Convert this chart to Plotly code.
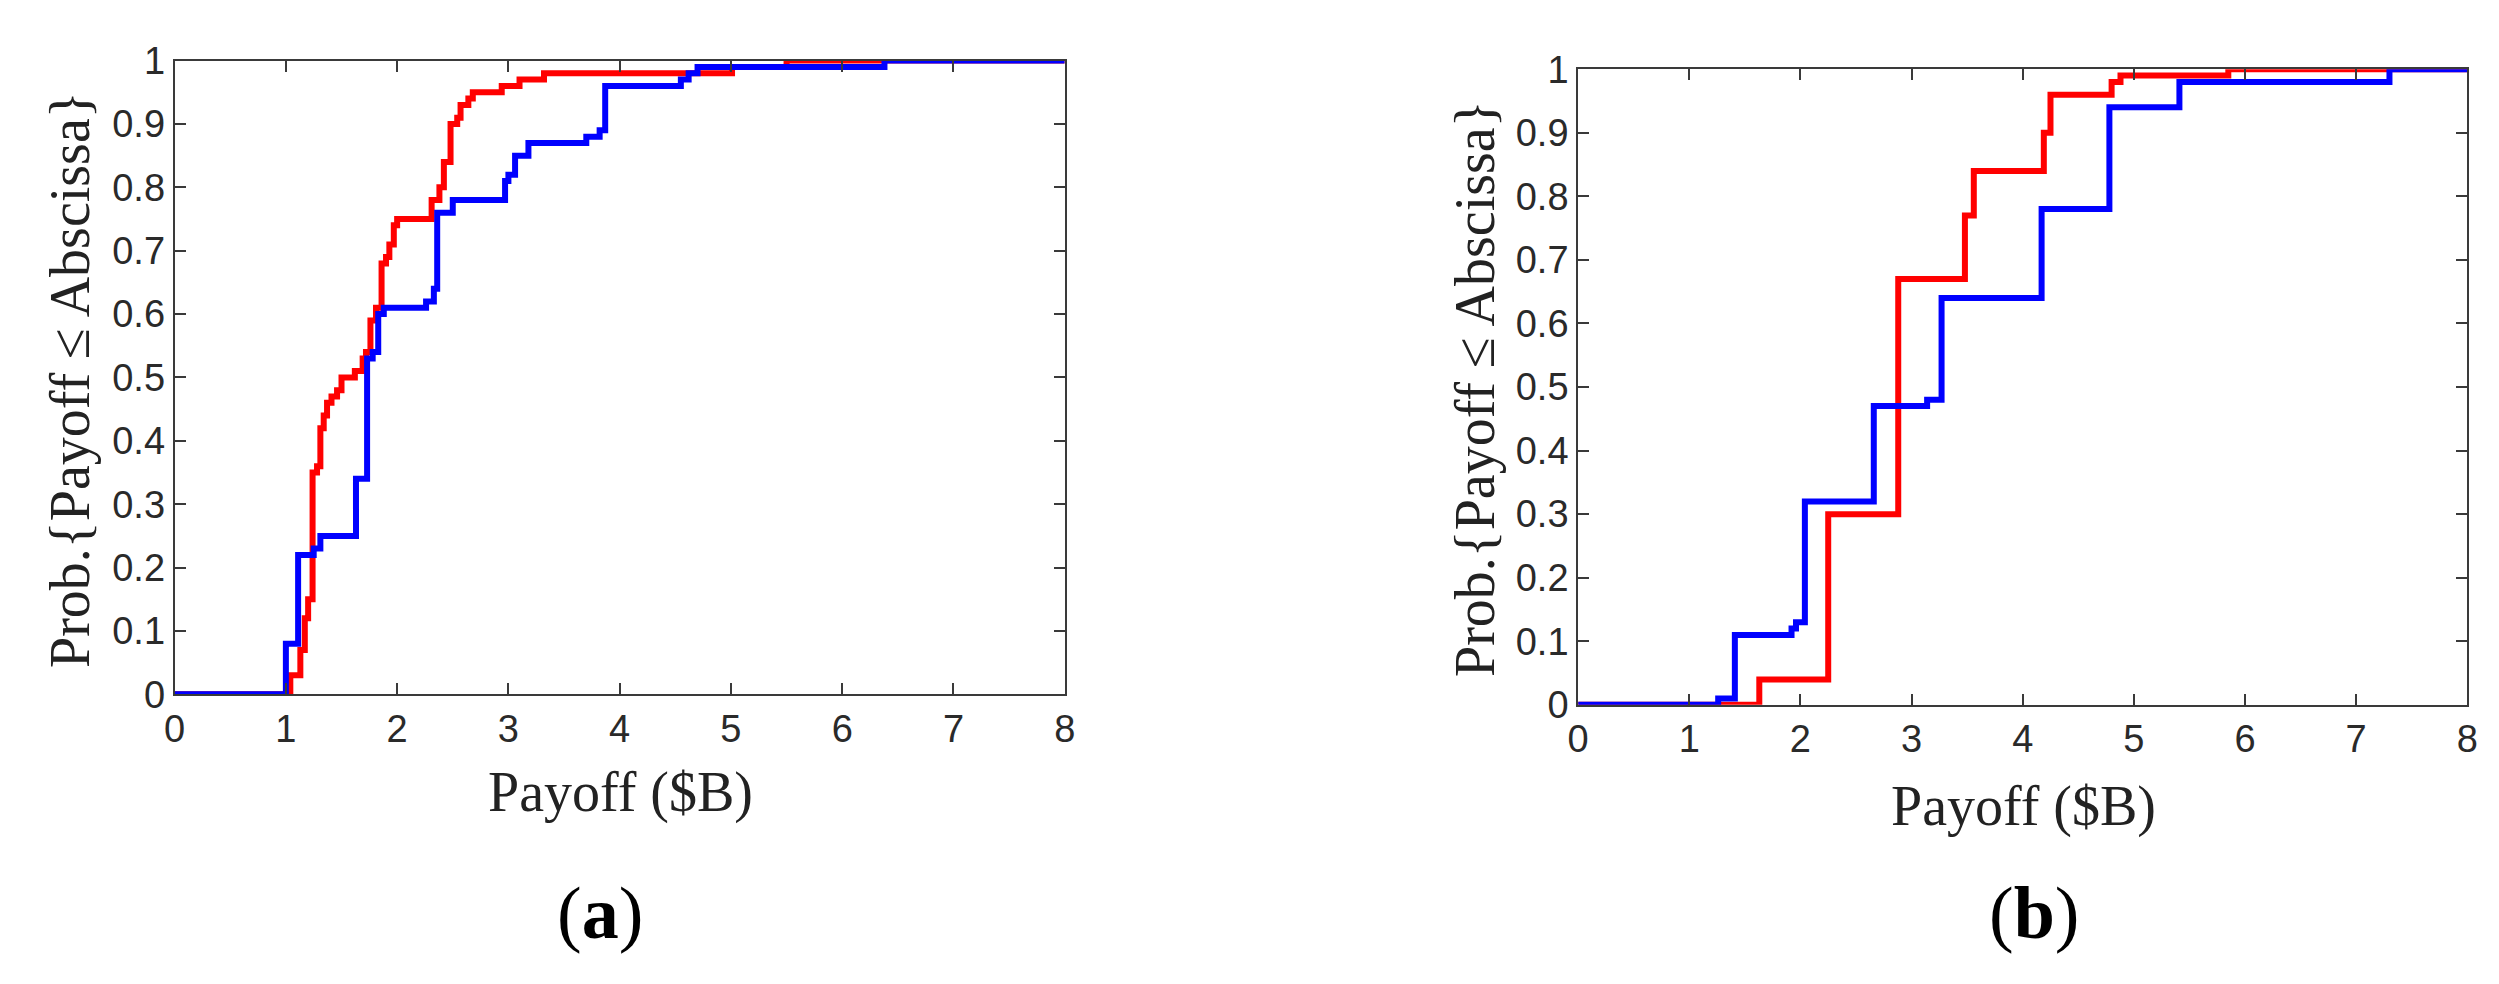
import plotly.graph_objects as go

W, H = 2499, 984

# ---- data (step CDFs: jump locations and value after each jump) ----
a_red_x = [1.04, 1.13, 1.17, 1.20, 1.24, 1.28, 1.31, 1.34, 1.37, 1.41, 1.46, 1.50, 1.62, 1.69, 1.72,
           1.76, 1.81, 1.86, 1.90, 1.93, 1.97, 2.00, 2.31, 2.38, 2.42, 2.48, 2.54, 2.57, 2.64, 2.68,
           2.94, 3.10, 3.32, 5.01, 5.50]
a_red_y = [0.03, 0.07, 0.12, 0.15, 0.35, 0.36, 0.42, 0.44, 0.46, 0.47, 0.48, 0.50, 0.51, 0.53, 0.54,
           0.59, 0.61, 0.68, 0.69, 0.71, 0.74, 0.75, 0.78, 0.80, 0.84, 0.90, 0.91, 0.93, 0.94, 0.95,
           0.96, 0.97, 0.98, 0.99, 1.00]

a_blue_x = [1.00, 1.11, 1.25, 1.31, 1.63, 1.73, 1.78, 1.83, 1.88, 2.26, 2.33, 2.36, 2.50, 2.97, 3.00,
            3.06, 3.18, 3.70, 3.82, 3.87, 4.55, 4.62, 4.70, 6.38]
a_blue_y = [0.08, 0.22, 0.23, 0.25, 0.34, 0.53, 0.54, 0.60, 0.61, 0.62, 0.64, 0.76, 0.78, 0.81, 0.82,
            0.85, 0.87, 0.88, 0.89, 0.96, 0.97, 0.98, 0.99, 1.00]

b_red_x = [1.63, 2.25, 2.88, 3.48, 3.56, 4.19, 4.25, 4.80, 4.88, 5.85]
b_red_y = [0.04, 0.30, 0.67, 0.77, 0.84, 0.90, 0.96, 0.98, 0.99, 1.00]

b_blue_x = [1.26, 1.41, 1.92, 1.96, 2.04, 2.66, 3.14, 3.27, 4.17, 4.78, 5.41, 7.30]
b_blue_y = [0.01, 0.11, 0.12, 0.13, 0.32, 0.47, 0.48, 0.64, 0.78, 0.94, 0.98, 1.00]

x_ticks = [0, 1, 2, 3, 4, 5, 6, 7, 8]
x_labels = ["0", "1", "2", "3", "4", "5", "6", "7", "8"]
y_ticks = [0, 0.1, 0.2, 0.3, 0.4, 0.5, 0.6, 0.7, 0.8, 0.9, 1]
y_labels = ["0", "0.1", "0.2", "0.3", "0.4", "0.5", "0.6", "0.7", "0.8", "0.9", "1"]

x_title = "Payoff ($B)"
y_title = "Prob.{Payoff ≤ Abscissa}"
panel_labels = ["(<b>a</b>)", "(<b>b</b>)"]

RED = "#FF0000"
BLUE = "#0000FF"
AXC = "#3a3a3a"


def step(xs, ys):
    return [0] + xs + [8], [0] + ys + [ys[-1]]


fig = go.Figure()
for xs, ys, col, ax in [(a_red_x, a_red_y, RED, 1), (a_blue_x, a_blue_y, BLUE, 1),
                        (b_red_x, b_red_y, RED, 2), (b_blue_x, b_blue_y, BLUE, 2)]:
    sx, sy = step(xs, ys)
    fig.add_trace(go.Scatter(x=sx, y=sy, mode="lines", line=dict(color=col, width=6, shape="hv"),
                             xaxis="x" if ax == 1 else "x2", yaxis="y" if ax == 1 else "y2",
                             showlegend=False, hoverinfo="skip"))

def px_x(p):
    return p / W

def px_y(p):
    return 1 - p / H

tickfont = dict(family="Liberation Sans, Arial, sans-serif", size=38, color="#2a2a2a")
common_x = dict(range=[0, 8], tickvals=x_ticks, ticktext=x_labels, ticks="inside", ticklen=11,
                tickwidth=2, tickcolor=AXC, showline=True, linecolor=AXC, linewidth=2, mirror="ticks",
                showgrid=False, zeroline=False, tickfont=tickfont, fixedrange=True)
common_y = dict(range=[0, 1], tickvals=y_ticks, ticktext=y_labels, ticks="inside", ticklen=11,
                tickwidth=2, tickcolor=AXC, showline=True, linecolor=AXC, linewidth=2, mirror="ticks",
                showgrid=False, zeroline=False, tickfont=tickfont, fixedrange=True)

# plot areas (pixels): a: x 157-1055, y 33-695 ; b: x 1573-2470, y 42-706
fig.update_layout(
    width=W, height=H, margin=dict(l=0, r=0, t=0, b=0),
    paper_bgcolor="white", plot_bgcolor="white",
    xaxis=dict(domain=[px_x(157), px_x(1055)], anchor="y", **common_x),
    yaxis=dict(domain=[px_y(695), px_y(33)], anchor="x", **common_y),
    xaxis2=dict(domain=[px_x(1573), px_x(2470)], anchor="y2", **common_x),
    yaxis2=dict(domain=[px_y(706), px_y(42)], anchor="x2", **common_y),
)

serif = "Liberation Serif, Times New Roman, serif"
ann = []
for cx, cy, tx in [(607, 798, x_title), (2022, 812, x_title)]:
    ann.append(dict(x=px_x(cx), y=px_y(cy), xref="paper", yref="paper", text=tx, showarrow=False,
                    xanchor="center", yanchor="middle", font=dict(family=serif, size=56, color="#222")))
for cx, cy in [(52, 366), (1469, 376)]:
    ann.append(dict(x=px_x(cx), y=px_y(cy), xref="paper", yref="paper", text=y_title, showarrow=False,
                    textangle=-90, xanchor="center", yanchor="middle",
                    font=dict(family=serif, size=56, color="#222")))
for (cx, cy), tx in zip([(586, 923), (2033, 923)], panel_labels):
    ann.append(dict(x=px_x(cx), y=px_y(cy), xref="paper", yref="paper", text=tx, showarrow=False,
                    xanchor="center", yanchor="middle", font=dict(family=serif, size=74, color="black")))
fig.update_layout(annotations=ann)

fig.write_html("out.html")
